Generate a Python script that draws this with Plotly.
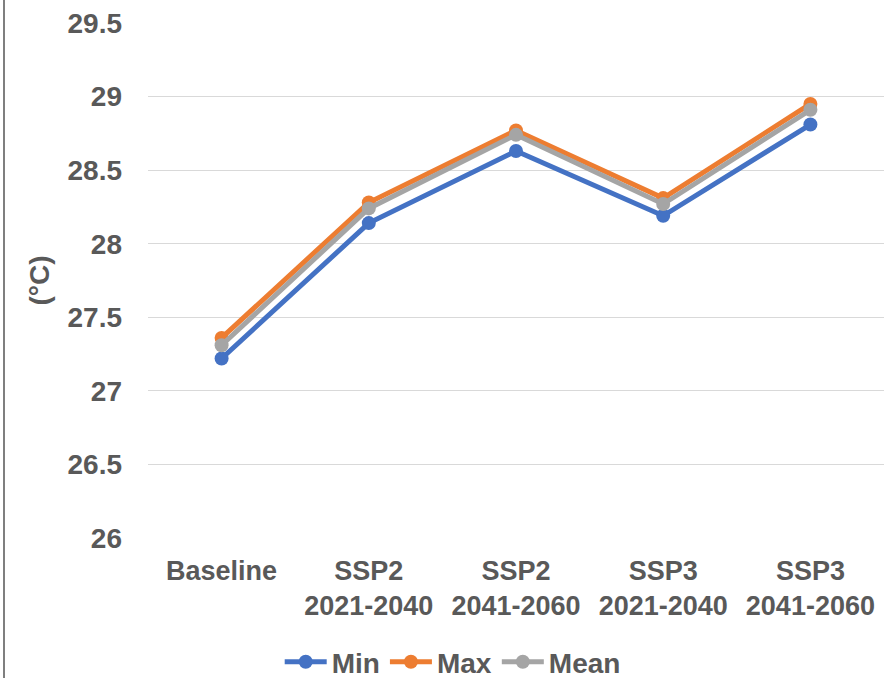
import plotly.graph_objects as go

categories = ["Baseline", "SSP2<br>2021-2040", "SSP2<br>2041-2060",
              "SSP3<br>2021-2040", "SSP3<br>2041-2060"]
min_vals = [27.22, 28.14, 28.63, 28.19, 28.81]
max_vals = [27.36, 28.28, 28.77, 28.31, 28.95]
mean_vals = [27.31, 28.24, 28.74, 28.27, 28.91]

series = [
    ("Min", min_vals, "#4472C4"),
    ("Max", max_vals, "#ED7D31"),
    ("Mean", mean_vals, "#A5A5A5"),
]

FONT = "Liberation Sans, Arial, sans-serif"
TEXT = "#595959"

fig = go.Figure()
for name, vals, color in series:
    fig.add_trace(go.Scatter(
        x=categories, y=vals, name=name, mode="lines+markers",
        line=dict(color=color, width=5),
        marker=dict(color=color, size=14),
    ))

fig.update_layout(
    width=889, height=678,
    margin=dict(l=148, r=5, t=23, b=140, autoexpand=False),
    paper_bgcolor="white", plot_bgcolor="white",
    font=dict(family=FONT, size=28, color=TEXT, weight="bold"),
    showlegend=True,
    legend=dict(orientation="h", x=0.414, xanchor="center", y=-0.241,
                yanchor="middle", font=dict(size=28, weight="bold"),
                itemwidth=42, tracegroupgap=0),
    xaxis=dict(type="category", range=[-0.5, 4.5], showgrid=False,
               zeroline=False, showline=False, ticks="", automargin=False,
               ticklabelstandoff=14,
               tickfont=dict(size=27, weight="bold")),
    yaxis=dict(range=[26, 29.5], dtick=0.5, tick0=26, showgrid=True,
               gridcolor="#D9D9D9", gridwidth=1, zeroline=False,
               showline=False, ticks="", ticklabelstandoff=25,
               automargin=False,
               tickfont=dict(size=28, weight="bold"),
               title=dict(text="(°C)", standoff=9,
                          font=dict(size=28, weight="bold"))),
    shapes=[dict(type="line", xref="paper", yref="paper",
                 x0=(4 - 148) / 736, x1=(4 - 148) / 736,
                 y0=-0.3, y1=1.05,
                 line=dict(color="#7F7F7F", width=2))],
)

fig.write_html("out.html")
